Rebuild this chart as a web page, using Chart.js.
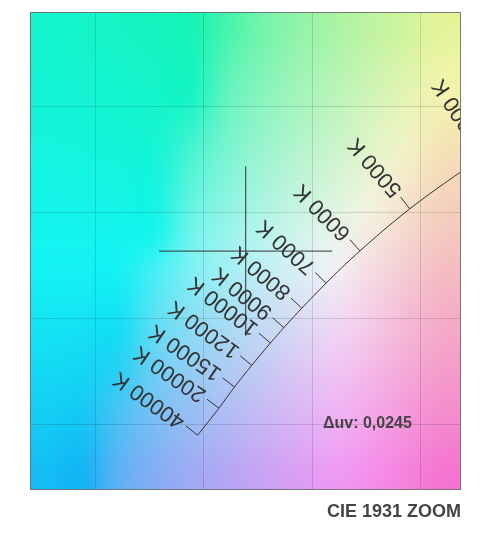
<!DOCTYPE html>
<html>
<head>
<meta charset="utf-8">
<script src="https://cdn.jsdelivr.net/npm/chart.js@4/dist/chart.umd.min.js"></script>
<style>
  body { margin: 0; background: #fff; }
  #wrap { width: 500px; height: 550px; }
</style>
</head>
<body>
<div id="wrap"><canvas id="c"></canvas></div>
<script>
// Planckian locus, CIE 1931 xy
const locusT = [3500, 4000, 4500, 5000, 5500, 6000, 6500, 7000, 8000, 9000, 10000, 12000, 15000, 20000, 40000];
const locusX = [0.4053, 0.3805, 0.3611, 0.3451, 0.3324, 0.3221, 0.3135, 0.3064, 0.2952, 0.2869, 0.2807, 0.2721, 0.2641, 0.2569, 0.2471];
const locusY = [0.3907, 0.3768, 0.3636, 0.3516, 0.3410, 0.3318, 0.3237, 0.3166, 0.3048, 0.2956, 0.2884, 0.2779, 0.2677, 0.2577, 0.2450];

// labelled temperatures on the locus
const cctT = [4000, 5000, 6000, 7000, 8000, 9000, 10000, 12000, 15000, 20000, 40000];
const cctLabels = ['4000 K', '5000 K', '6000 K', '7000 K', '8000 K', '9000 K', '10000 K', '12000 K', '15000 K', '20000 K', '40000 K'];

// measured point (crosshair)
const pointX = 0.2693;
const pointY = 0.3317;
const crossArm = 0.04;
const duvText = 'Δuv: 0,0245';

const xRange = [0.1696, 0.3688];
const yRange = [0.2190, 0.4443];

function xyToRgb(x, y) {
  const X = x / y, Z = (1 - x - y) / y;
  let r = 3.2406 * X - 1.5372 - 0.4986 * Z;
  let g = -0.9689 * X + 1.8758 + 0.0415 * Z;
  let b = 0.0557 * X - 0.2040 + 1.0570 * Z;
  // out of gamut: add white instead of clipping
  const lo = Math.min(r, g, b, 0);
  r -= lo; g -= lo; b -= lo;
  const m = Math.max(r, g, b);
  return [r / m, g / m, b / m].map(c => {
    const s = c <= 0.0031308 ? 12.92 * c : 1.055 * Math.pow(c, 1 / 2.4) - 0.055;
    return Math.round(255 * s * 0.88 + 20);
  });
}

// coarse colour grid, smoothed when stretched over the plot area
const backgroundPlugin = {
  id: 'cieBackground',
  beforeDraw(chart) {
    const {ctx, chartArea: a, scales} = chart;
    const left = Math.round(a.left), top = Math.round(a.top);
    const w = Math.round(a.right) - left, h = Math.round(a.bottom) - top;
    const cell = 36;
    const gw = Math.ceil(w / cell), gh = Math.ceil(h / cell);
    const off = document.createElement('canvas');
    off.width = gw; off.height = gh;
    const octx = off.getContext('2d');
    const img = octx.createImageData(gw, gh);
    for (let j = 0; j < gh; j++) {
      const y = scales.y.getValueForPixel(top + (j + 0.5) * h / gh);
      for (let i = 0; i < gw; i++) {
        const x = scales.x.getValueForPixel(left + (i + 0.5) * w / gw);
        const c = xyToRgb(x, y);
        const k = (j * gw + i) * 4;
        img.data[k] = c[0]; img.data[k + 1] = c[1]; img.data[k + 2] = c[2]; img.data[k + 3] = 255;
      }
    }
    octx.putImageData(img, 0, 0);
    ctx.save();
    ctx.imageSmoothingEnabled = true;
    ctx.imageSmoothingQuality = 'high';
    ctx.drawImage(off, left, top, w, h);
    ctx.restore();
  }
};

const annotatePlugin = {
  id: 'cctAnnotate',
  afterDatasetsDraw(chart) {
    const {ctx, chartArea: a, scales} = chart;
    const px = i => ({x: scales.x.getPixelForValue(locusX[i]), y: scales.y.getPixelForValue(locusY[i])});

    ctx.save();
    ctx.beginPath();
    ctx.rect(a.left, a.top, a.right - a.left, a.bottom - a.top);
    ctx.clip();
    ctx.strokeStyle = '#333';
    ctx.fillStyle = '#333';
    ctx.lineWidth = 1;
    ctx.font = '22px "Liberation Sans", Arial, sans-serif';
    ctx.textAlign = 'left';
    ctx.textBaseline = 'middle';

    cctT.forEach((t, k) => {
      const idx = locusT.indexOf(t);
      const p = px(idx);
      const cool = px(Math.max(idx - 1, 0));
      const hot = px(Math.min(idx + 1, locusT.length - 1));
      const tx = cool.x - hot.x, ty = cool.y - hot.y;
      const len = Math.hypot(tx, ty);
      const nx = ty / len, ny = -tx / len;
      const tick = 15, gap = 4;
      ctx.beginPath();
      ctx.moveTo(p.x, p.y);
      ctx.lineTo(p.x + nx * tick, p.y + ny * tick);
      ctx.stroke();
      ctx.save();
      ctx.translate(p.x + nx * (tick + gap), p.y + ny * (tick + gap));
      ctx.rotate(Math.atan2(ny, nx) - 3 * Math.PI / 180);
      ctx.fillText(cctLabels[k], 0, 0);
      ctx.restore();
    });

    ctx.font = 'bold 16px "Liberation Sans", Arial, sans-serif';
    ctx.fillStyle = '#444';
    ctx.fillText(duvText, a.right - 138, a.bottom - 67);
    ctx.restore();

    ctx.save();
    ctx.strokeStyle = 'rgba(110,110,110,0.9)';
    ctx.lineWidth = 1;
    ctx.strokeRect(Math.round(a.left) + 0.5, Math.round(a.top) + 0.5,
      Math.round(a.right - a.left) - 1, Math.round(a.bottom - a.top) - 1);
    ctx.restore();
  }
};

const lineStyle = {
  showLine: true,
  pointRadius: 0,
  borderColor: '#333',
  borderWidth: 1,
  fill: false
};

new Chart(document.getElementById('c'), {
  type: 'scatter',
  data: {
    datasets: [
      {
        ...lineStyle,
        label: 'Planck',
        tension: 0.3,
        data: locusX.map((x, i) => ({x: x, y: locusY[i]}))
      },
      {
        ...lineStyle,
        label: 'h',
        data: [{x: pointX - crossArm, y: pointY}, {x: pointX + crossArm, y: pointY}]
      },
      {
        ...lineStyle,
        label: 'v',
        data: [{x: pointX, y: pointY - crossArm}, {x: pointX, y: pointY + crossArm}]
      }
    ]
  },
  options: {
    responsive: true,
    maintainAspectRatio: false,
    animation: false,
    layout: {padding: {left: 30, top: 12, right: 39, bottom: 17}},
    plugins: {
      legend: {display: false},
      tooltip: {enabled: false},
      title: {
        display: true,
        text: 'CIE 1931 ZOOM',
        position: 'bottom',
        align: 'end',
        color: '#444',
        font: {family: '"Liberation Sans", Arial, sans-serif', size: 18, weight: 'bold'},
        padding: {top: 11, bottom: 10}
      }
    },
    scales: {
      x: {
        type: 'linear',
        min: xRange[0],
        max: xRange[1],
        ticks: {display: false, stepSize: 0.05, includeBounds: false},
        grid: {color: 'rgba(0,0,0,0.13)', drawTicks: false},
        border: {display: false}
      },
      y: {
        type: 'linear',
        min: yRange[0],
        max: yRange[1],
        ticks: {display: false, stepSize: 0.05, includeBounds: false},
        grid: {color: 'rgba(0,0,0,0.13)', drawTicks: false},
        border: {display: false}
      }
    }
  },
  plugins: [backgroundPlugin, annotatePlugin]
});
</script>
</body>
</html>
